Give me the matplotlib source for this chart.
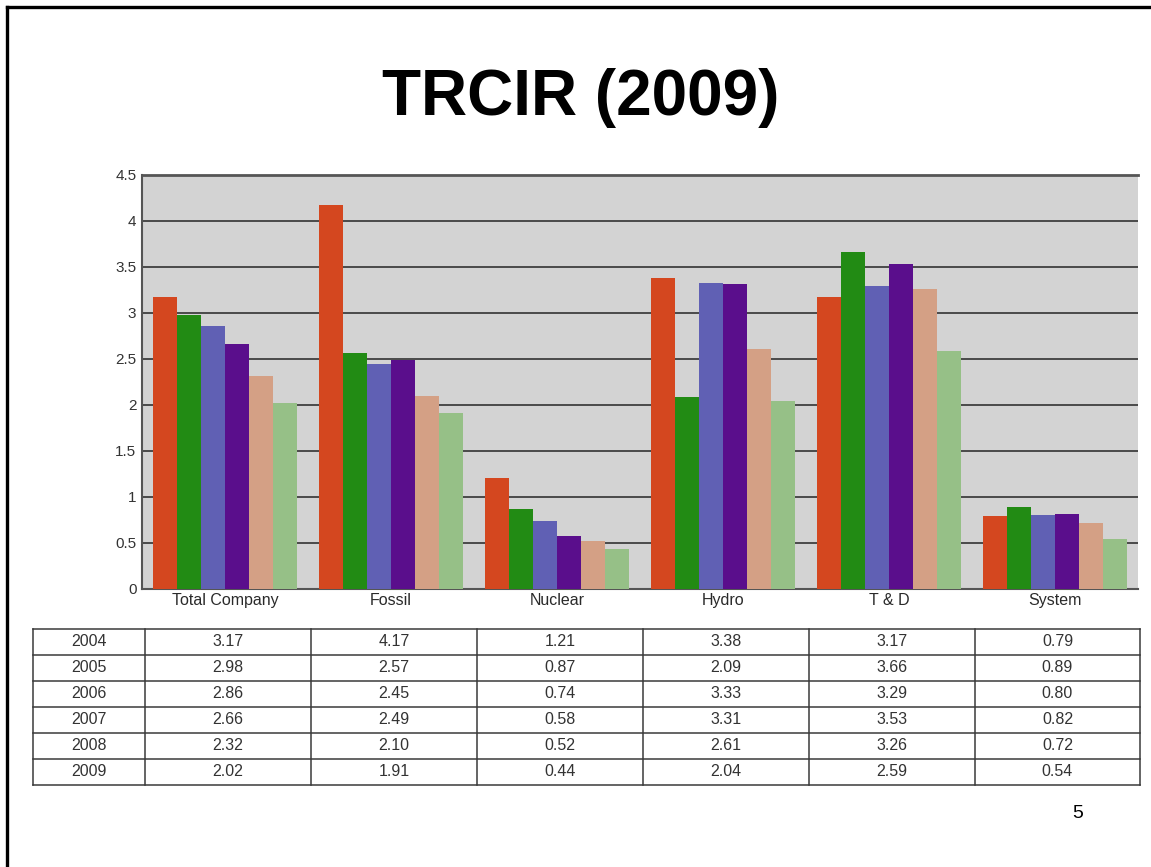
import matplotlib
matplotlib.use("Agg")
import matplotlib.pyplot as plt
from matplotlib.lines import Line2D
import numpy as np

plt.rcParams['font.family'] = ['Liberation Sans', 'DejaVu Sans']

categories = ["Total Company", "Fossil", "Nuclear", "Hydro", "T & D", "System"]
years = ["2004", "2005", "2006", "2007", "2008", "2009"]
v2004 = [3.17, 4.17, 1.21, 3.38, 3.17, 0.79]
v2005 = [2.98, 2.57, 0.87, 2.09, 3.66, 0.89]
v2006 = [2.86, 2.45, 0.74, 3.33, 3.29, 0.80]
v2007 = [2.66, 2.49, 0.58, 3.31, 3.53, 0.82]
v2008 = [2.32, 2.10, 0.52, 2.61, 3.26, 0.72]
v2009 = [2.02, 1.91, 0.44, 2.04, 2.59, 0.54]
series = [v2004, v2005, v2006, v2007, v2008, v2009]
colors = ["#D4471F", "#228B14", "#6060B4", "#5A0E8C", "#D4A085", "#96C087"]
yticks = [0, 0.5, 1, 1.5, 2, 2.5, 3, 3.5, 4, 4.5]
ytick_labels = ["0", "0.5", "1", "1.5", "2", "2.5", "3", "3.5", "4", "4.5"]

W, H = 1151, 867
fig = plt.figure(figsize=(W / 100, H / 100), dpi=100)

def fx(px):
    return px / W

def fy(py):
    return 1 - py / H

# slide border (left and top)
fig.add_artist(Line2D([fx(6.5), fx(6.5)], [fy(6.5), 0], color="black", lw=2.4))
fig.add_artist(Line2D([fx(6.5), 1], [fy(6.5), fy(6.5)], color="black", lw=2.4))

# title
fig.text(fx(581), fy(98), "TRCIR (2009)", ha="center", va="center",
         fontsize=46, fontweight="bold", color="black")

# page number
fig.text(fx(1078), fy(813), "5", ha="center", va="center", fontsize=14, color="black")

# chart axes
ax_l, ax_r, ax_t, ax_b = 142, 1138, 175, 589
ax = fig.add_axes([fx(ax_l), fy(ax_b), fx(ax_r - ax_l), (ax_b - ax_t) / H])
ax.set_facecolor("#D3D3D3")
n = len(series)
x = np.arange(len(categories))
bw = 0.144
for i, (vals, c) in enumerate(zip(series, colors)):
    ax.bar(x + (i - (n - 1) / 2) * bw, vals, width=bw, color=c, zorder=3, linewidth=0)
ax.set_xlim(-0.5, len(categories) - 0.5)
ax.set_ylim(0, 4.5)
ax.set_yticks(yticks)
ax.set_yticklabels(ytick_labels)
ax.yaxis.grid(True, color="#333333", linewidth=1.2, zorder=1)
ax.set_axisbelow(True)
ax.set_xticks(x)
ax.set_xticklabels(categories)
ax.tick_params(axis="x", length=0, pad=3, labelsize=11.5, labelcolor="#2A2A2A")
ax.tick_params(axis="y", length=0, pad=4, labelsize=11, labelcolor="#333333")
for s in ["left", "bottom"]:
    ax.spines[s].set_color("#555555")
    ax.spines[s].set_linewidth(1.5)
ax.spines["top"].set_color("#555555")
ax.spines["top"].set_linewidth(2)
ax.spines["right"].set_visible(False)

# data table
tl, tr, tt, tb = 32.5, 1140, 628.5, 784.5
col_edges = [tl, 145, 311, 477, 643, 809, 975, tr]
nrows = len(years)
rh = (tb - tt) / nrows
lc = "#3A3A3A"
for i in range(nrows + 1):
    yy = tt + i * rh
    fig.add_artist(Line2D([fx(tl), fx(tr)], [fy(yy), fy(yy)], color=lc, lw=1.1))
for xe in col_edges:
    fig.add_artist(Line2D([fx(xe), fx(xe)], [fy(tt), fy(tb)], color=lc, lw=1.1))
for r, (yr, vals) in enumerate(zip(years, series)):
    yc = tt + (r + 0.5) * rh
    fig.text(fx((col_edges[0] + col_edges[1]) / 2), fy(yc), yr, ha="center", va="center",
             fontsize=11.5, color="#333333")
    for c, v in enumerate(vals):
        xc = (col_edges[c + 1] + col_edges[c + 2]) / 2
        fig.text(fx(xc), fy(yc), f"{v:.2f}", ha="center", va="center",
                 fontsize=11.5, color="#333333")

fig.savefig("out.png", dpi=100, facecolor="white")
